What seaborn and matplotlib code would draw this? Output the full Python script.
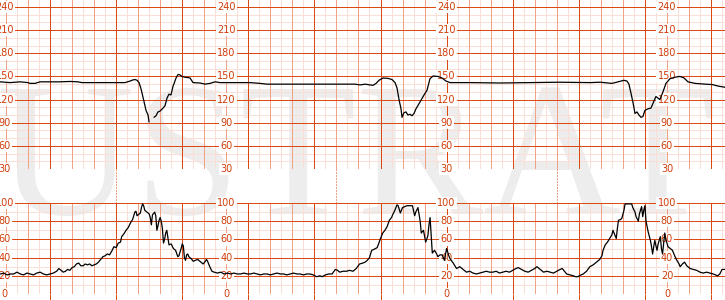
import numpy as np
import pandas as pd
import matplotlib
matplotlib.use("Agg")
import matplotlib.pyplot as plt
import seaborn as sns

# ---------------- data ----------------
# Fetal heart rate (bpm) vs time (s); segment id marks a signal drop-out
fhr_t = [-45.4, -36.3, -27.2, -20, -18.2, -13.6, -9.1, 0, 9.1, 18.2, 25.4, 29, 40.8, 54.5, 68.1,
         72.6, 75.3, 77.2, 79, 80.8, 82.6, 84.4, 86.2, 87.1, 88, 89, 89.9,
         94.4, 96.2, 98, 99.8, 102.6, 104.4, 106.2, 108, 109.8, 111.6, 114.4, 116.2, 118, 119.8,
         122.5, 125.3, 127.1, 129.8, 136.2, 140.7, 145.2, 149.8, 154.3, 166.1, 181.5, 190.6, 197,
         204.2, 227, 254, 276.9, 281.4, 286, 290.5, 293.2, 296, 298.6, 302.3, 306.8, 310.4, 313.2,
         315, 316.8, 318.6, 319.5, 321.3, 323.1, 324.9, 326.8, 328.6, 330.4, 332.2, 335.9, 339.5,
         342.2, 344.9, 347.6, 352.2, 355.8, 359.5, 363.1, 381.2, 408.5, 435.7, 462.9, 490.2, 499.2,
         510.1, 515.6, 521, 523.7, 525.5, 527.4, 529.2, 531, 532.8, 534.6, 536.4, 538.2, 540,
         542.8, 545.5, 548.2, 550, 551.8, 553.6, 556.4, 559.1, 562.7, 567.3, 571.8, 575.5, 579.1,
         585.5, 594.6, 601, 606.4, 612.7]
fhr_v = [143, 142, 143, 142, 141, 141, 143, 143, 143, 143.5, 143, 142, 142, 142, 142,
         144, 145.5, 146, 145, 142, 134, 123, 112, 106, 103, 100, 91,
         97, 99, 104, 105, 109, 112, 122, 127, 126, 137, 148, 152.5, 152, 150,
         149, 148.5, 148, 142, 141.5, 140, 141, 143, 142, 142, 142, 141, 140,
         140, 140, 140, 140, 139, 140, 139, 138.5, 141, 145, 148, 147.5, 146, 142,
         135, 120, 108, 97, 103, 104, 100, 101, 99, 102, 108, 117, 126,
         132, 147, 150.5, 150, 148, 144, 142, 142, 141.5, 142, 142.5, 142, 142.5,
         141, 143, 145, 144, 140, 128, 116, 102, 104, 100, 97, 98, 106,
         108, 109, 118, 124, 122, 120, 130, 141, 147, 149, 150, 148, 143,
         141, 140, 139.5, 137.5, 136]
fhr_seg = [0] * 27 + [1] * (len(fhr_t) - 27)

# Uterine contraction pressure vs time (s)
uc_t = [-45, -42, -39, -36, -33, -30, -27, -24, -21, -18, -15, -12, -9, -6, -3, 0, 3,
        6, 8, 10, 12, 14, 16, 18, 20, 22, 24, 26, 28, 30, 32, 34, 36, 38, 40, 42, 44, 46, 48, 50,
        52, 54, 56, 58, 60, 62, 64, 65, 67, 69, 71, 73, 75, 77, 78, 79, 81, 82, 83, 84, 85, 86, 87,
        88, 89, 90, 91, 92, 93, 95, 96, 97, 98, 99, 100, 101, 102, 103, 104, 105, 106, 107, 108,
        110, 112, 114, 116, 117, 118, 119, 120, 121, 122, 123, 124, 125, 126, 128, 130, 132, 134,
        136, 138, 139, 141, 142, 143, 145, 147, 149, 152, 155, 158, 161, 164, 167, 170, 173, 176,
        179, 182, 185, 188, 191, 194, 197, 200, 203, 206, 209, 212, 215, 218, 221, 224, 227, 230,
        233, 236, 239, 242, 245, 247, 250, 253, 256, 259, 261, 263, 266, 269, 272, 275, 278, 281,
        284, 286, 288, 290, 292, 294, 297, 300, 302, 304, 306, 308, 310, 311, 313, 315, 316, 318,
        320, 322, 324, 327, 329, 331, 332, 334, 336, 337, 339, 341, 343, 344, 345, 347, 349, 351,
        352, 354, 356, 358, 360, 362, 363, 366, 369, 372,
        375, 378, 381, 384, 387, 390, 393, 396, 399, 402, 405, 408,
        411, 414, 417, 420, 423, 425, 428, 431, 434, 437, 440, 442, 445, 448, 451, 454, 457, 460,
        463, 465, 467, 469, 472, 475, 477,
        479, 482, 484, 487, 490, 493, 496, 499, 501, 502, 504, 506, 508, 510, 511, 513, 514, 515,
        516, 518, 519, 521, 522, 524, 526, 528, 529, 531, 532, 534, 535, 537, 538, 539, 540, 541,
        543, 545, 546, 547, 548, 549, 550, 551, 552, 554, 555, 556, 557, 558, 559, 561, 563, 565,
        567, 569, 571, 572, 574, 576, 578, 581, 584, 587, 590, 593, 596, 599, 602, 604, 606, 608,
        610, 613]
uc_v = [22, 23, 21, 22, 22, 24, 22, 21, 23, 22, 21, 23, 24, 22, 21, 22, 23,
        25, 28, 26, 24, 25, 27, 26, 29, 30, 33, 34, 31, 31, 33, 32, 33, 31, 32, 33, 35, 38, 41, 42,
        44, 43, 47, 52, 51, 56, 57, 63, 66, 70, 73, 78, 82, 90, 91, 86, 88, 89, 95, 99, 97, 92, 91,
        90, 89, 88, 84, 76, 87, 90, 86, 70, 75, 81, 84, 80, 72, 56, 60, 67, 70, 62, 54,
        55, 50, 48, 41, 42, 46, 50, 55, 53, 40, 37, 43, 44, 41, 39, 36, 37, 38,
        36, 34, 33, 36, 38, 36, 30, 25, 24, 23, 24, 22, 23, 22, 23, 22, 22, 23,
        22, 22, 23, 22, 21, 22, 22, 21, 22, 23, 22, 22, 21, 22, 23, 22, 22, 21,
        22, 22, 21, 19, 20, 19, 21, 22, 22, 27, 26, 24, 25, 25, 26, 25, 28, 33,
        34, 35, 37, 40, 48, 49, 51, 61, 67, 70, 74, 81, 84, 87, 92, 98, 97, 89,
        95, 96, 97, 97, 97, 86, 90, 95, 80, 67, 70, 57, 64, 76, 84, 45, 48, 44,
        41, 43, 43, 37, 50, 42, 39, 34, 28, 30,
        27, 24, 25, 23, 22, 23, 24, 25, 24, 24, 25, 23,
        24, 25, 24, 26, 28, 29, 27, 25, 24, 26, 28, 30, 27, 24, 25, 24, 23, 25,
        27, 28, 25, 22, 21, 20, 19,
        19, 21, 22, 25, 30, 32, 35, 38, 42, 48, 54, 57, 61, 65, 70, 64, 61, 72,
        81, 82, 83, 92, 99, 99, 99, 99, 95, 90, 85, 80, 88, 96, 85, 92, 97, 80,
        68, 59, 52, 44, 52, 59, 53, 48, 55, 63, 50, 44, 55, 67, 60, 52, 50, 48,
        42, 37, 33, 30, 33, 35, 31, 28, 27, 26, 24, 23, 24, 23, 22, 21, 20, 22,
        27, 27]

fhr_ticks = [30, 60, 90, 120, 150, 180, 210, 240]
uc_ticks = [0, 20, 40, 60, 80, 100]
label_times = [-41, 160, 360, 560]
marker_times = [60, 260, 460]

# ---------------- style ----------------
C_MAJOR = "#dc4a14"
C_MED = "#f0a286"
C_MIN = "#f9dfd6"
C_TEXT = "#d03c08"
PX = 0.72  # one pixel in points at 100 dpi

sns.set_theme(style="white")
plt.rcParams["font.family"] = ["DejaVu Sans"]

W, H = 725, 300
fig = plt.figure(figsize=(W / 100, H / 100), dpi=100)
fig.patch.set_facecolor("white")


def px_axes(top, bottom):
    return fig.add_axes([0, (H - bottom) / H, 1, (bottom - top) / H])


ax_f = px_axes(0, 169)
ax_u = px_axes(203, 294)

xlim = (-45.4, 612.7)

# watermark behind everything
fig.text(0.491, 0.287, "USTRAT", fontfamily="Liberation Serif", fontsize=137,
         color="#ededed", ha="center", va="baseline", zorder=-1)

ZORD = {"min": 1.0, "med": 1.2, "maj": 1.4}
COLS = {"maj": C_MAJOR, "med": C_MED, "min": C_MIN}


def draw_grid(ax, ylo, yhi, hstep, hmajor):
    ax.set_facecolor("none")
    ax.set_xlim(*xlim)
    ax.set_ylim(ylo, yhi)
    for s in ax.spines.values():
        s.set_visible(False)
    ts = np.arange(-60, 630, 10)
    for t in ts:
        if t % 60 == 0:
            lv = "maj"
        elif t % 20 == 0:
            lv = "med"
        else:
            lv = "min"
        ax.axvline(t, color=COLS[lv], lw=PX, zorder=ZORD[lv], antialiased=False)
    vals = np.arange(0, 260, hstep)
    for v in vals:
        if v < ylo - 1e-6 or v > yhi:
            continue
        if v % hmajor == 0:
            ax.axhline(v, color=C_MAJOR, lw=PX, zorder=1.5, antialiased=False)
        else:
            ax.axhline(v, color=C_MIN, lw=PX, zorder=1.1, antialiased=False)


draw_grid(ax_f, 30, 249.1, 10, 30)
draw_grid(ax_u, 0, 100, 10, 20)

ax_f.set_xticks([])
ax_f.set_yticks([])
ax_u.set_yticks([])
ax_u.set_xticks(np.arange(0, 620, 60))
ax_u.tick_params(axis="x", bottom=True, length=4.5, width=PX, color=C_MAJOR,
                 direction="out", labelbottom=False)

# dashed time markers across the gap between the two strips
gap_frac = 34 / 169
for t in marker_times:
    ax_f.axvline(t, ymin=-gap_frac, ymax=0, color=C_MED, lw=PX,
                 dashes=(1.5, 1.5), clip_on=False, antialiased=False)

# scale labels
for ax, ticks in ((ax_f, fhr_ticks), (ax_u, uc_ticks)):
    for t in label_times:
        for v in ticks:
            ax.text(t, v, str(v), ha="center", va="center", fontsize=7,
                    color=C_TEXT, zorder=3, clip_on=False,
                    bbox=dict(fc="white", ec="none", pad=0.9))

# traces
df_f = pd.DataFrame({"t": fhr_t, "bpm": fhr_v, "seg": fhr_seg})
df_u = pd.DataFrame({"t": uc_t, "uc": uc_v})
sns.lineplot(data=df_f, x="t", y="bpm", units="seg", estimator=None, color="black",
             lw=0.9, ax=ax_f, zorder=4)
sns.lineplot(data=df_u, x="t", y="uc", estimator=None, color="black",
             lw=0.9, ax=ax_u, zorder=4)
for ax in (ax_f, ax_u):
    ax.set_xlabel("")
    ax.set_ylabel("")
    ax.set_xlim(*xlim)
ax_f.set_ylim(30, 249.1)
ax_u.set_ylim(0, 100)

fig.savefig("out.png", dpi=100, facecolor="white")
